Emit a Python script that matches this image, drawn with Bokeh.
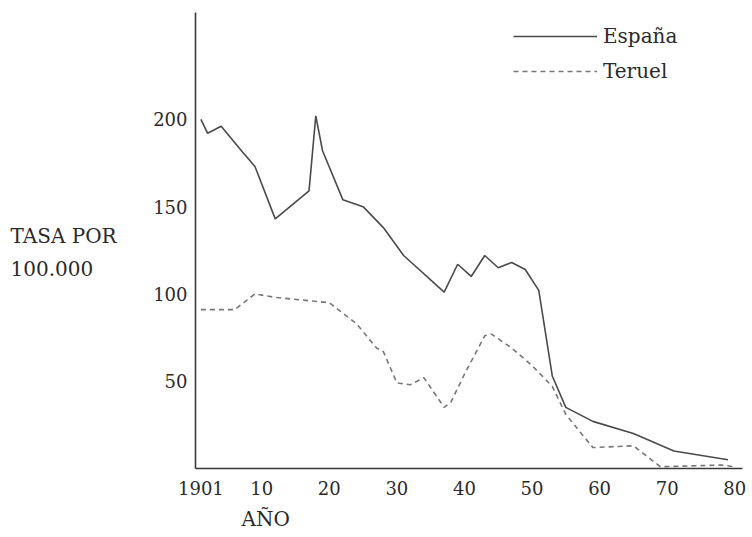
from bokeh.plotting import figure
from bokeh.models import FixedTicker, Range1d, Legend, LegendItem, Title
from bokeh.layouts import row
from bokeh.core.properties import value
from bokeh.embed import file_html
from bokeh.resources import INLINE

# --- data ---
espana_years = [1901, 1902, 1904, 1907, 1909, 1912, 1917, 1918, 1919, 1922, 1925,
                1928, 1931, 1937, 1939, 1941, 1943, 1945, 1947, 1949, 1951, 1953,
                1955, 1959, 1965, 1971, 1979]
espana_rate = [200, 192, 196, 182, 173, 143, 159, 202, 182, 154, 150,
               138, 122, 101, 117, 110, 122, 115, 118, 114, 102, 53,
               35, 27, 20, 10, 5]

teruel_years = [1901, 1906, 1909, 1912, 1920, 1921, 1924, 1927, 1928, 1930, 1932,
                1934, 1937, 1938, 1940, 1943, 1944, 1947, 1950, 1953, 1955, 1959,
                1965, 1969, 1978, 1980]
teruel_rate = [91, 91, 100, 98, 95, 92, 83, 69, 67, 49, 48,
               52, 35, 38, 54, 76, 77, 69, 59, 47, 31, 12,
               13, 1, 2, 1]

x_ticks = [1901, 1910, 1920, 1930, 1940, 1950, 1960, 1970, 1980]
x_tick_labels = ["1901", "10", "20", "30", "40", "50", "60", "70", "80"]
y_ticks = [50, 100, 150, 200]
y_title_lines = ["TASA POR", "100.000"]

FONT = "DejaVu Serif"
TXT = "#2a2a2a"
H = 537
LEFT_W = 145
MAIN_W = 605
FRAME_TOP, FRAME_BOTTOM = 12, 468

# --- left strip holding the y-axis title (two left-aligned lines) ---
# its frame is aligned with the main frame by the row layout, so the
# y range is expressed in page pixels of that frame
left = figure(width=LEFT_W, height=H, output_backend="svg", toolbar_location=None,
              x_range=Range1d(0, LEFT_W), y_range=Range1d(FRAME_BOTTOM, FRAME_TOP),
              min_border_left=0, min_border_right=0, min_border_top=FRAME_TOP,
              min_border_bottom=H - FRAME_BOTTOM, outline_line_color=None,
              x_axis_location=None, y_axis_location=None)
left.xgrid.visible = False
left.ygrid.visible = False
left.text(x=[10, 10], y=[235, 268], text=y_title_lines, text_font=value(FONT),
          text_font_size="20px", text_color=TXT, text_align="left",
          text_baseline="middle")

# --- main chart ---
p = figure(width=MAIN_W, height=H, output_backend="svg", toolbar_location=None,
           x_range=Range1d(1900.2, 1981.15), y_range=Range1d(0, 261.2),
           min_border_left=50, min_border_right=8, min_border_top=FRAME_TOP,
           min_border_bottom=H - FRAME_BOTTOM, outline_line_color=None)
p.xgrid.visible = False
p.ygrid.visible = False

r_es = p.line(espana_years, espana_rate, line_color="#4a4a4a", line_width=1.6)
r_te = p.line(teruel_years, teruel_rate, line_color="#777777", line_width=1.6,
              line_dash="5 4")

for ax in (p.xaxis[0], p.yaxis[0]):
    ax.axis_line_color = "#3a3a3a"
    ax.axis_line_width = 1.6
    ax.major_tick_in = 0
    ax.major_tick_out = 0
    ax.minor_tick_in = 0
    ax.minor_tick_out = 0
    ax.major_label_text_font = FONT
    ax.major_label_text_font_size = "18px"
    ax.major_label_text_color = TXT

p.xaxis[0].ticker = FixedTicker(ticks=x_ticks)
p.xaxis[0].major_label_overrides = {t: l for t, l in zip(x_ticks, x_tick_labels)}
p.xaxis[0].major_label_standoff = 12
p.yaxis[0].ticker = FixedTicker(ticks=y_ticks)
p.yaxis[0].major_label_standoff = 8

legend = Legend(items=[LegendItem(label="España", renderers=[r_es]),
                       LegendItem(label="Teruel", renderers=[r_te])],
                location=(318, 385), orientation="vertical",
                label_text_font=FONT, label_text_font_size="20px",
                label_text_color=TXT, glyph_width=84, glyph_height=20,
                label_height=20, label_standoff=6, spacing=11, padding=0,
                margin=0, background_fill_alpha=0, border_line_alpha=0)
p.add_layout(legend)

p.add_layout(Title(text="AÑO", align="left", offset=46, standoff=14,
                   text_font=FONT, text_font_size="20px",
                   text_font_style="normal", text_color=TXT), "below")

layout = row(left, p, spacing=0)
open("out.html", "w").write(file_html(layout, INLINE))
